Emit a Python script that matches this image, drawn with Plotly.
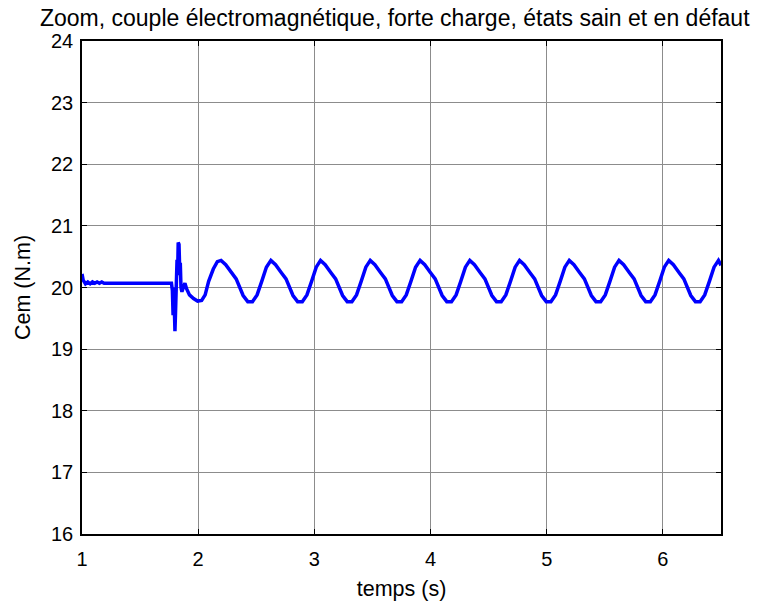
import plotly.graph_objects as go

# Time (s) and electromagnetic torque Cem (N.m)
t_start = [1.000, 1.010, 1.030, 1.050, 1.070, 1.090, 1.110, 1.130, 1.150, 1.170, 1.190, 1.770]
c_start = [20.22, 20.12, 20.06, 20.09, 20.06, 20.09, 20.07, 20.09, 20.07, 20.09, 20.07, 20.07]

t_trans = [1.778, 1.784, 1.790, 1.795, 1.800, 1.805, 1.812, 1.818, 1.823, 1.828, 1.835,
           1.840, 1.846, 1.852, 1.860, 1.872, 1.886, 1.900, 1.925, 1.960, 1.995, 2.030,
           2.060, 2.090, 2.130, 2.165]
c_trans = [19.95, 19.55, 20.00, 19.40, 19.29, 19.60, 20.20, 20.45, 20.20, 20.73, 20.70,
           20.35, 20.40, 20.00, 19.93, 20.00, 20.07, 19.98, 19.88, 19.82, 19.78, 19.79,
           19.88, 20.10, 20.30, 20.42]

t_osc = [
    2.197, 2.237, 2.287, 2.327, 2.387, 2.427, 2.467, 2.507, 2.547, 2.587,
    2.626, 2.666, 2.716, 2.756, 2.816, 2.856, 2.896, 2.936, 2.976, 3.016,
    3.053, 3.093, 3.143, 3.183, 3.243, 3.283, 3.323, 3.363, 3.403, 3.443,
    3.481, 3.521, 3.571, 3.611, 3.671, 3.711, 3.751, 3.791, 3.831, 3.871,
    3.910, 3.950, 4.000, 4.040, 4.100, 4.140, 4.180, 4.220, 4.260, 4.300,
    4.338, 4.378, 4.428, 4.468, 4.528, 4.568, 4.608, 4.648, 4.688, 4.728,
    4.766, 4.806, 4.856, 4.896, 4.956, 4.996, 5.036, 5.076, 5.116, 5.156,
    5.194, 5.234, 5.284, 5.324, 5.384, 5.424, 5.464, 5.504, 5.544, 5.584,
    5.622, 5.662, 5.712, 5.752, 5.812, 5.852, 5.892, 5.932, 5.972, 6.012,
    6.050, 6.090, 6.140, 6.180, 6.240, 6.280, 6.320, 6.360, 6.400, 6.440,
    6.478, 6.500,
]
c_osc = [
    20.44, 20.37, 20.24, 20.14, 19.87, 19.77, 19.77, 19.88, 20.10, 20.33,
    20.44, 20.37, 20.24, 20.14, 19.87, 19.77, 19.77, 19.88, 20.10, 20.33,
    20.44, 20.37, 20.24, 20.14, 19.87, 19.77, 19.77, 19.88, 20.10, 20.33,
    20.44, 20.37, 20.24, 20.14, 19.87, 19.77, 19.77, 19.88, 20.10, 20.33,
    20.44, 20.37, 20.24, 20.14, 19.87, 19.77, 19.77, 19.88, 20.10, 20.33,
    20.44, 20.37, 20.24, 20.14, 19.87, 19.77, 19.77, 19.88, 20.10, 20.33,
    20.44, 20.37, 20.24, 20.14, 19.87, 19.77, 19.77, 19.88, 20.10, 20.33,
    20.44, 20.37, 20.24, 20.14, 19.87, 19.77, 19.77, 19.88, 20.10, 20.33,
    20.44, 20.37, 20.24, 20.14, 19.87, 19.77, 19.77, 19.88, 20.10, 20.33,
    20.44, 20.37, 20.24, 20.14, 19.87, 19.77, 19.77, 19.88, 20.10, 20.33,
    20.44, 20.36,
]

x_ticks = [1, 2, 3, 4, 5, 6]
y_ticks = [16, 17, 18, 19, 20, 21, 22, 23, 24]

t_all = t_start + t_trans + t_osc
c_all = c_start + c_trans + c_osc

FONT = "Liberation Sans, Arial, sans-serif"

fig = go.Figure()
fig.add_trace(go.Scatter(x=t_all, y=c_all, mode="lines",
                         line=dict(color="#0000FF", width=3.5),
                         showlegend=False))

fig.update_layout(
    width=768, height=603,
    margin=dict(l=82, r=47, t=41, b=69),
    paper_bgcolor="white", plot_bgcolor="white",
    font=dict(family=FONT, size=20, color="black"),
    title=dict(text="Zoom, couple électromagnétique, forte charge, états sain et en défaut",
               x=0.514, xanchor="center", y=1 - 18 / 603, yanchor="middle",
               font=dict(family=FONT, size=23, color="black")),
)
fig.update_xaxes(
    range=[1, 6.5], tickvals=x_ticks, ticktext=[str(v) for v in x_ticks],
    showgrid=True, gridcolor="#8c8c8c", gridwidth=1,
    showline=True, linecolor="black", linewidth=1.5, mirror="ticks",
    ticks="inside", ticklen=5, tickcolor="black",
    zeroline=False, ticklabelstandoff=6, automargin=False,
    title=dict(text="temps (s)", standoff=12, font=dict(family=FONT, size=21.5)),
    tickfont=dict(family=FONT, size=20),
)
fig.update_yaxes(
    range=[16, 24], tickvals=y_ticks, ticktext=[str(v) for v in y_ticks],
    showgrid=True, gridcolor="#8c8c8c", gridwidth=1,
    showline=True, linecolor="black", linewidth=1.5, mirror="ticks",
    ticks="inside", ticklen=5, tickcolor="black",
    zeroline=False, ticklabelstandoff=3, automargin=False,
    title=dict(text="Cem (N.m)", standoff=14, font=dict(family=FONT, size=21.5)),
    tickfont=dict(family=FONT, size=20),
)

fig.write_html("out.html")
